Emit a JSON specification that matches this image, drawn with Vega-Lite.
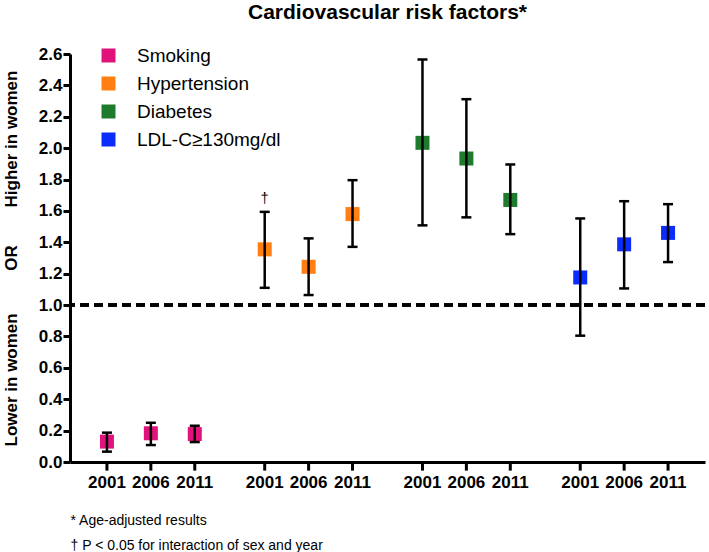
{
  "$schema": "https://vega.github.io/schema/vega-lite/v6.json",
  "width": 635,
  "height": 408,
  "autosize": {"type": "none"},
  "padding": {"left": 70, "top": 54, "right": 4, "bottom": 90},
  "title": {"text": "Cardiovascular risk factors*", "fontSize": 21, "fontWeight": "bold", "font": "Liberation Sans", "color": "black", "anchor": "middle", "baseline": "alphabetic", "offset": -1},
  "config": {
    "view": {"stroke": null},
    "font": "Liberation Sans",
    "axisY": {"tickCount": 20, "format": ".1f", "grid": false, "labelOverlap": false,
              "labelFontSize": 17, "labelFontWeight": "bold", "labelColor": "black", "labelPadding": 1,
              "tickColor": "black", "tickWidth": 3, "tickSize": 7, "domainColor": "black", "domainWidth": 3,
              "titleFontSize": 17, "titleFontWeight": "bold", "titleColor": "black", "titlePadding": 18}
  },
  "data": {"values": [
    {"factor": "Smoking", "year": "2001", "or": 0.13, "lo": 0.066, "hi": 0.187, "note": ""},
    {"factor": "Smoking", "year": "2006", "or": 0.183, "lo": 0.108, "hi": 0.25, "note": ""},
    {"factor": "Smoking", "year": "2011", "or": 0.178, "lo": 0.127, "hi": 0.231, "note": ""},
    {"factor": "Hypertension", "year": "2001", "or": 1.355, "lo": 1.11, "hi": 1.594, "note": "†"},
    {"factor": "Hypertension", "year": "2006", "or": 1.244, "lo": 1.064, "hi": 1.425, "note": ""},
    {"factor": "Hypertension", "year": "2011", "or": 1.58, "lo": 1.371, "hi": 1.796, "note": ""},
    {"factor": "Diabetes", "year": "2001", "or": 2.034, "lo": 1.508, "hi": 2.565, "note": ""},
    {"factor": "Diabetes", "year": "2006", "or": 1.934, "lo": 1.559, "hi": 2.312, "note": ""},
    {"factor": "Diabetes", "year": "2011", "or": 1.67, "lo": 1.452, "hi": 1.896, "note": ""},
    {"factor": "LDL-C≥130mg/dl", "year": "2001", "or": 1.176, "lo": 0.805, "hi": 1.552, "note": ""},
    {"factor": "LDL-C≥130mg/dl", "year": "2006", "or": 1.387, "lo": 1.106, "hi": 1.662, "note": ""},
    {"factor": "LDL-C≥130mg/dl", "year": "2011", "or": 1.46, "lo": 1.274, "hi": 1.643, "note": ""}
  ]},
  "layer": [
    {
      "mark": {"type": "point", "shape": "square", "filled": true, "size": 196, "opacity": 1},
      "encoding": {
        "x": {"field": "factor", "type": "nominal", "sort": ["Smoking", "Hypertension", "Diabetes", "LDL-C≥130mg/dl"],
              "scale": {"paddingInner": 0.165, "paddingOuter": 0.095},
              "axis": {"title": ["* Age-adjusted results", "† P < 0.05 for interaction of sex and year"], "labels": false, "ticks": false, "domain": true, "domainColor": "black", "domainWidth": 3, "grid": false,
                       "titleAnchor": "start", "titleAlign": "left", "titleFontWeight": "normal", "titleFontSize": 14, "titleColor": "black", "titlePadding": 51, "titleLineHeight": 25.5}},
        "xOffset": {"field": "year", "type": "nominal"},
        "y": {"field": "or", "type": "quantitative", "scale": {"domain": [0, 2.6], "nice": false},
              "axis": {"title": "Lower in women\u00a0\u00a0\u00a0\u00a0\u00a0\u00a0\u00a0\u00a0\u00a0OR\u00a0\u00a0\u00a0\u00a0\u00a0\u00a0\u00a0\u00a0Higher in women",
                       "values": [0, 0.2, 0.4, 0.6, 0.8, 1.0, 1.2, 1.4, 1.6, 1.8, 2.0, 2.2, 2.4, 2.6], "tickCount": 20, "labelOverlap": false}},
        "color": {"field": "factor", "type": "nominal",
                  "scale": {"domain": ["Smoking", "Hypertension", "Diabetes", "LDL-C≥130mg/dl"], "range": ["#e0127c", "#ff7f12", "#1e7a2d", "#0b2cfb"]},
                  "legend": {"orient": "none", "legendX": 29, "legendY": -8, "title": null, "symbolType": "square", "symbolSize": 196, "symbolStrokeWidth": 0,
                             "labelFontSize": 19, "labelColor": "black", "labelOffset": 19, "rowPadding": 8, "padding": 0}}
      }
    },
    {
      "mark": {"type": "rule", "strokeDash": [9, 5], "strokeWidth": 2.5, "color": "black"},
      "encoding": {"y": {"datum": 1}}
    },
    {
      "mark": {"type": "rule", "strokeWidth": 2.5, "color": "black"},
      "encoding": {
        "x": {"field": "factor", "type": "nominal", "sort": ["Smoking", "Hypertension", "Diabetes", "LDL-C≥130mg/dl"]},
        "xOffset": {"field": "year", "type": "nominal"},
        "y": {"field": "lo", "type": "quantitative"},
        "y2": {"field": "hi"}
      }
    },
    {
      "mark": {"type": "tick", "size": 10, "thickness": 2.5, "color": "black", "opacity": 1},
      "encoding": {
        "x": {"field": "factor", "type": "nominal", "sort": ["Smoking", "Hypertension", "Diabetes", "LDL-C≥130mg/dl"]},
        "xOffset": {"field": "year", "type": "nominal"},
        "y": {"field": "lo", "type": "quantitative"}
      }
    },
    {
      "mark": {"type": "tick", "size": 10, "thickness": 2.5, "color": "black", "opacity": 1},
      "encoding": {
        "x": {"field": "factor", "type": "nominal", "sort": ["Smoking", "Hypertension", "Diabetes", "LDL-C≥130mg/dl"]},
        "xOffset": {"field": "year", "type": "nominal"},
        "y": {"field": "hi", "type": "quantitative"}
      }
    },
    {
      "mark": {"type": "rule", "strokeWidth": 3, "color": "black"},
      "encoding": {
        "x": {"field": "factor", "type": "nominal", "sort": ["Smoking", "Hypertension", "Diabetes", "LDL-C≥130mg/dl"]},
        "xOffset": {"field": "year", "type": "nominal"},
        "y": {"datum": 0},
        "y2": {"datum": -0.055}
      }
    },
    {
      "mark": {"type": "text", "fontSize": 17, "fontWeight": "bold", "color": "black", "baseline": "top", "dy": 13},
      "encoding": {
        "x": {"field": "factor", "type": "nominal", "sort": ["Smoking", "Hypertension", "Diabetes", "LDL-C≥130mg/dl"]},
        "xOffset": {"field": "year", "type": "nominal"},
        "y": {"datum": 0},
        "text": {"field": "year"}
      }
    },
    {
      "mark": {"type": "text", "fontSize": 14, "fill": "black", "color": "black", "baseline": "bottom", "dy": -6},
      "encoding": {
        "x": {"field": "factor", "type": "nominal", "sort": ["Smoking", "Hypertension", "Diabetes", "LDL-C≥130mg/dl"]},
        "xOffset": {"field": "year", "type": "nominal"},
        "y": {"field": "hi", "type": "quantitative"},
        "text": {"field": "note"}
      }
    }
  ]
}
